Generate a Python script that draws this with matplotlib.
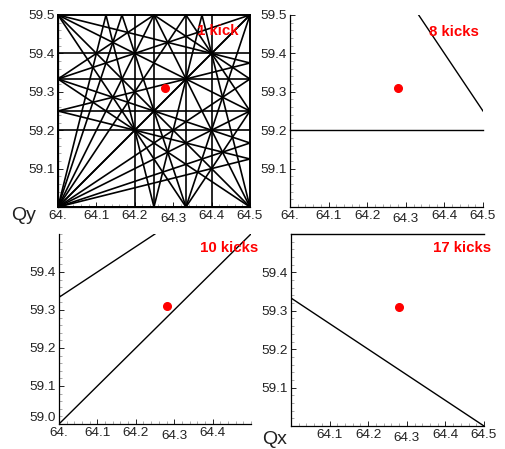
import numpy as np
import matplotlib
matplotlib.use('Agg')
import matplotlib.pyplot as plt
from matplotlib.ticker import MultipleLocator

plt.rcParams['font.family'] = ['Liberation Sans', 'DejaVu Sans']

# Diagrama de tunes: ressonancias m*Qx + n*Qy = p
qx_range = [64.0, 64.5]
qy_range = [59.0, 59.5]
working_point = (64.28, 59.31)
max_order = 5

# ressonancias que sobram depois de varios kicks (m, n, p)
res_8 = [(0, 5, 296), (3, 2, 312)]
res_10 = [(2, -3, -50), (1, -1, 5)]
res_17 = [(2, 3, 306), (0, 2, 119)]

x_ticks = [64.0, 64.1, 64.2, 64.3, 64.4, 64.5]
x_labels = ['64.', '64.1', '64.2', '64.3', '64.4', '64.5']
y_ticks = [59.0, 59.1, 59.2, 59.3, 59.4, 59.5]
y_labels = ['59.0', '59.1', '59.2', '59.3', '59.4', '59.5']


def all_resonances(order):
    res = []
    for m in range(0, order + 1):
        for n in range(-order, order + 1):
            if abs(m) + abs(n) == 0 or abs(m) + abs(n) > order:
                continue
            if m == 0 and n < 0:
                continue
            corners = [m * x + n * y for x in qx_range for y in qy_range]
            p_min = int(np.ceil(min(corners) - 1e-9))
            p_max = int(np.floor(max(corners) + 1e-9))
            for p in range(p_min, p_max + 1):
                res.append((m, n, p))
    return res


def draw_res(ax, m, n, p, lw):
    if n == 0:
        ax.axvline(p / m, color='k', lw=lw, clip_on=False)
    elif m == 0:
        ax.axhline(p / n, color='k', lw=lw, clip_on=False)
    else:
        x0 = qx_range[0]
        ax.axline((x0, (p - m * x0) / n), slope=-m / n, color='k', lw=lw)


def setup(ax, xi, yi, label, lpos):
    ax.set_xlim(qx_range)
    ax.set_ylim(qy_range)
    for s in ['top', 'right']:
        ax.spines[s].set_visible(False)
    for s in ['left', 'bottom']:
        ax.spines[s].set_linewidth(0.9)
    ax.xaxis.set_minor_locator(MultipleLocator(0.02))
    ax.yaxis.set_minor_locator(MultipleLocator(0.02))
    ax.tick_params(which='major', direction='in', length=3.5, width=0.7,
                   labelsize=9.7, colors='#222222')
    ax.tick_params(which='minor', direction='in', length=2, width=0.5, color='#888888')
    ax.tick_params(axis='x', which='major', pad=2)
    ax.tick_params(axis='y', which='major', pad=2)
    ax.set_xticks([x_ticks[i] for i in xi])
    ax.set_xticklabels([x_labels[i] for i in xi])
    ax.set_yticks([y_ticks[i] for i in yi])
    ax.set_yticklabels([y_labels[i] for i in yi])
    # o label 64.3 fica um pouco mais baixo
    for t, i in zip(ax.xaxis.get_major_ticks(), xi):
        if x_labels[i] == '64.3':
            t.set_pad(4.5)
    ax.plot(working_point[0], working_point[1], 'o', color='red', ms=5.5, zorder=5)
    ax.text(lpos[0], lpos[1], label, transform=ax.transAxes, color='red',
            fontsize=10.8, fontweight='bold', ha='center', va='center', clip_on=False)


fig = plt.figure(figsize=(5.06, 4.49), dpi=100)
ax1 = fig.add_axes([0.1146, 0.5390, 0.3794, 0.4276])
ax2 = fig.add_axes([0.5731, 0.5390, 0.3814, 0.4276])
ax3 = fig.add_axes([0.1166, 0.0557, 0.3794, 0.4232])
ax4 = fig.add_axes([0.5751, 0.0512, 0.3814, 0.4276])

for r in all_resonances(max_order):
    draw_res(ax1, *r, lw=1.2)
for r in res_8:
    draw_res(ax2, *r, lw=1.0)
for r in res_10:
    draw_res(ax3, *r, lw=1.0)
for r in res_17:
    draw_res(ax4, *r, lw=1.0)

setup(ax1, range(0, 6), range(1, 6), '1 kick', (0.833, 0.917))
setup(ax2, range(0, 6), range(1, 6), '8 kicks', (0.85, 0.91))
setup(ax3, range(0, 5), range(0, 5), '10 kicks', (0.885, 0.926))
setup(ax4, range(1, 6), range(1, 5), '17 kicks', (0.886, 0.927))

# no painel de baixo o 59.0 fica um pouco acima do eixo
ax3.yaxis.get_major_ticks()[0].label1.set_va('bottom')

fig.text(24 / 506, 1 - 216 / 449, 'Qy', fontsize=14, ha='center', va='center', color='#222222')
fig.text(275 / 506, 1 - 440 / 449, 'Qx', fontsize=14, ha='center', va='center', color='#222222')

fig.savefig('out.png', dpi=100)
